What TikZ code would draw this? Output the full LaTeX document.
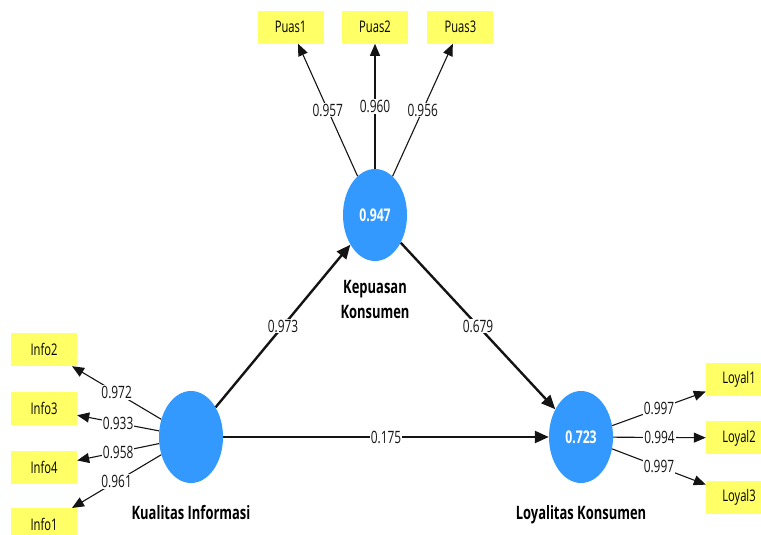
\documentclass[tikz,border=0pt]{standalone}
\usepackage{fontspec}
\setmainfont{Open Sans}[FakeStretch=0.7]
\usepackage{tikz}
\usetikzlibrary{shapes.geometric, arrows.meta, positioning}
\definecolor{lvblue}{RGB}{51,153,255}
\definecolor{indyellow}{RGB}{255,255,102}
\definecolor{mydark}{RGB}{20,20,20}
\tikzset{
  latent/.style={ellipse, fill=lvblue, minimum width=64pt, minimum height=92pt,
    inner sep=0pt, text=white, font=\bfseries\fontsize{17.5}{20}\selectfont},
  indicator/.style={rectangle, fill=indyellow, minimum width=66pt, minimum height=33pt,
    inner sep=0pt, font=\fontsize{16}{19}\selectfont},
  lvname/.style={align=center, inner sep=0pt, font=\bfseries\fontsize{18.5}{25}\selectfont},
  coef/.style={fill=white, inner sep=1pt, font=\fontsize{17}{20}\selectfont},
  patharrow/.style={-{Triangle[length=14pt, width=12pt]}, line width=2.4pt, color=mydark},
  loadarrow/.style={-{Triangle[length=12pt, width=10pt]}, line width=1.1pt, color=mydark}
}

\begin{document}
\begin{tikzpicture}[x=1pt, y=1pt]
  \useasboundingbox (0,0) rectangle (761,535);

  % Latent variables
  \node[latent] (kep) at (375,320) {0.947};
  \node[latent] (kual) at (191,98) {};
  \node[latent] (loy) at (581,98) {0.723};

  \node[lvname, below=19pt of kep] (kepname) {Kepuasan\\Konsumen};
  \node[lvname, below=22pt of kual] (kualname) {Kualitas Informasi};
  \node[lvname, below=22pt of loy] (loyname) {Loyalitas Konsumen};

  % Indicators Kepuasan
  \node[indicator, above=125pt of kep] (puas2) {Puas2};
  \node[indicator, left=18pt of puas2] (puas1) {Puas1};
  \node[indicator, right=19pt of puas2] (puas3) {Puas3};

  % Indicators Kualitas
  \node[indicator] (info2) at (44,185.5) {Info2};
  \node[indicator, below=26pt of info2] (info3) {Info3};
  \node[indicator, below=25pt of info3] (info4) {Info4};
  \node[indicator, below=24pt of info4] (info1) {Info1};

  % Indicators Loyalitas
  \node[indicator] (loyal1) at (739,155.5) {Loyal1};
  \node[indicator, below=25pt of loyal1] (loyal2) {Loyal2};
  \node[indicator, below=26pt of loyal2] (loyal3) {Loyal3};

  % Inner model
  \draw[patharrow] (kual) -- node[coef] {0.973} (kep);
  \draw[patharrow] (kep) -- node[coef] {0.679} (loy);
  \draw[patharrow] (kual) -- node[coef] {0.175} (loy);

  % Outer model
  \draw[loadarrow] (kep) -- node[coef] {0.957} (puas1);
  \draw[loadarrow] (kep) -- node[coef] {0.960} (puas2);
  \draw[loadarrow] (kep) -- node[coef] {0.956} (puas3);

  \draw[loadarrow] (kual) -- node[coef] {0.972} (info2);
  \draw[loadarrow] (kual) -- node[coef] {0.933} (info3);
  \draw[loadarrow] (kual) -- node[coef] {0.958} (info4);
  \draw[loadarrow] (kual) -- node[coef] {0.961} (info1);

  \draw[loadarrow] (loy) -- node[coef] {0.997} (loyal1);
  \draw[loadarrow] (loy) -- node[coef] {0.994} (loyal2);
  \draw[loadarrow] (loy) -- node[coef] {0.997} (loyal3);
\end{tikzpicture}
\end{document}
